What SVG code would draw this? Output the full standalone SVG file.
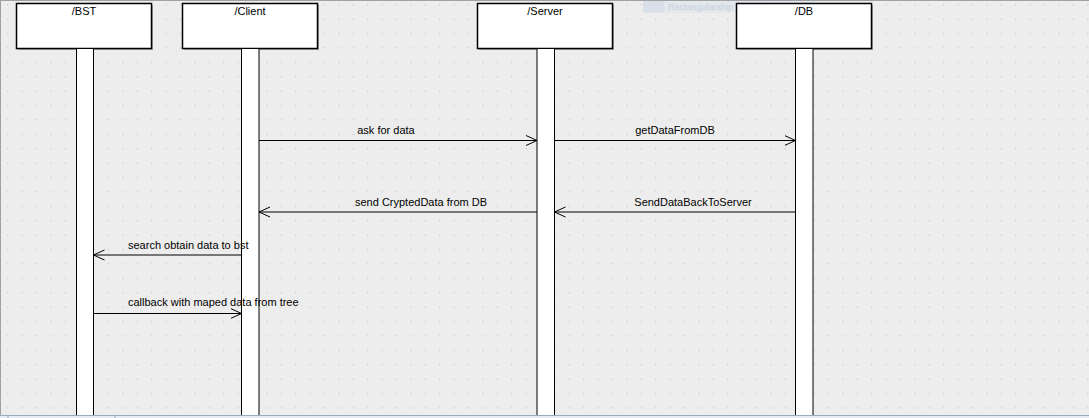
<svg xmlns="http://www.w3.org/2000/svg" width="1089" height="418" viewBox="0 0 1089 418">
<defs>
<pattern id="grid" x="7" y="4" width="14.4" height="14.4" patternUnits="userSpaceOnUse">
<rect x="0" y="0" width="1.2" height="1.2" fill="#c8c8c8"/>
</pattern>
<marker id="open" markerWidth="12" markerHeight="12" refX="11" refY="6" orient="auto" markerUnits="userSpaceOnUse">
<path d="M0,1 L11,6 L0,11" fill="none" stroke="#000" stroke-width="1"/>
</marker>
</defs>
<style>
.box{fill:#fff;stroke:#000;stroke-width:1.5}
.shadow{fill:#a8a8a8}
.life{fill:#fff;stroke:#000;stroke-width:1}
.t{font-family:"Liberation Sans",Arial,sans-serif;font-size:11px;fill:#000}
.msg{stroke:#000;stroke-width:1;fill:none;marker-end:url(#open)}
</style>
<rect x="0" y="0" width="1089" height="418" fill="#ededed"/>
<rect x="0" y="0" width="1089" height="415" fill="url(#grid)"/>
<line x1="0" y1="0.5" x2="1089" y2="0.5" stroke="#a0a0a0"/>
<line x1="0.5" y1="0" x2="0.5" y2="415" stroke="#a0a0a0"/>
<g id="tooltip" opacity="0.9">
<rect x="643" y="1" width="173" height="11.5" fill="#e2e8ef"/>
<rect x="643" y="1" width="21" height="11.5" fill="#d6dee8"/>
<text x="668" y="10" font-family="Liberation Sans, Arial, sans-serif" font-size="9" fill="#c4cdd8">Rectangularship</text>
</g>
<g id="bst">
<rect class="shadow" x="18" y="5" width="135" height="45"/>
<rect class="box" x="16.5" y="3.5" width="135" height="45"/>
<rect class="life" x="76.5" y="48.5" width="17" height="370"/>
<text class="t" x="84" y="15" text-anchor="middle">/BST</text>
</g>
<g id="client">
<rect class="shadow" x="184" y="5" width="135" height="45"/>
<rect class="box" x="182.5" y="3.5" width="135" height="45"/>
<rect class="life" x="241.5" y="48.5" width="17.5" height="370"/>
<text class="t" x="250" y="15" text-anchor="middle">/Client</text>
</g>
<g id="server">
<rect class="shadow" x="479" y="5" width="135" height="45"/>
<rect class="box" x="477.5" y="3.5" width="135" height="45"/>
<rect class="life" x="537" y="48.5" width="17.5" height="370"/>
<text class="t" x="545" y="15" text-anchor="middle">/Server</text>
</g>
<g id="db">
<rect class="shadow" x="738" y="5" width="135" height="45"/>
<rect class="box" x="736.5" y="3.5" width="135" height="45"/>
<rect class="life" x="795.5" y="48.5" width="17.5" height="370"/>
<text class="t" x="804" y="15" text-anchor="middle">/DB</text>
</g>
<g id="connectors">
<line class="msg" x1="259" y1="140.5" x2="537" y2="140.5"/>
<text class="t" x="386" y="134" text-anchor="middle">ask for data</text>
<line class="msg" x1="554.5" y1="140.5" x2="795.5" y2="140.5"/>
<text class="t" x="675" y="134" text-anchor="middle">getDataFromDB</text>
<line class="msg" x1="537" y1="212" x2="259" y2="212"/>
<text class="t" x="421" y="206" text-anchor="middle">send CryptedData from DB</text>
<line class="msg" x1="795.5" y1="212" x2="554.5" y2="212"/>
<text class="t" x="693" y="206" text-anchor="middle">SendDataBackToServer</text>
<line class="msg" x1="241.5" y1="255" x2="93.5" y2="255"/>
<text class="t" x="128" y="249">search obtain data to bst</text>
<line class="msg" x1="93.5" y1="313.5" x2="241.5" y2="313.5"/>
<text class="t" x="128" y="306">callback with maped data from tree</text>
</g>
<rect x="0" y="415" width="1089" height="3" fill="#e6edf6"/>
<line x1="0" y1="415.5" x2="1089" y2="415.5" stroke="#9aa9bb"/>
<line x1="8" y1="416" x2="8" y2="418" stroke="#9aa9bb"/>
<line x1="115" y1="416" x2="115" y2="418" stroke="#9aa9bb"/>
</svg>
